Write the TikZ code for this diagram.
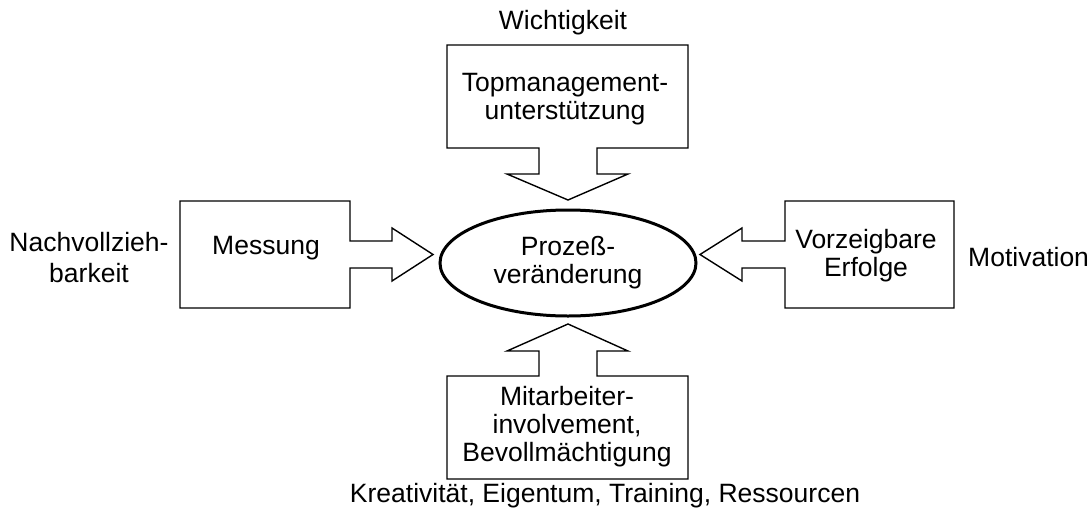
\documentclass[tikz,border=0pt]{standalone}
\usepackage{fontspec}
\setmainfont{Liberation Sans}
\usetikzlibrary{shapes.geometric}
\begin{document}
\begin{tikzpicture}[x=1pt,y=-1pt,
  outline/.style={draw=black,line width=1.4pt,line join=miter,fill=white},
  lbl/.style={inner sep=0pt,align=center,font=\fontsize{26.5}{28}\selectfont},
  centre/.style={draw=black,line width=3pt,ellipse,minimum width=256pt,
    minimum height=106pt,inner sep=0pt,align=center,font=\fontsize{26.5}{28}\selectfont}]
\useasboundingbox (0,0) rectangle (1092,514);

% top box with its downward block arrow
\draw[outline] (447,45) -- (688,45) -- (688,148) -- (597,148) -- (597,174)
  -- (628,174) -- (568,200) -- (507,174) -- (539,174) -- (539,148)
  -- (447,148) -- cycle;
% left box with its arrow pointing right
\draw[outline] (180,201) -- (350,201) -- (350,241) -- (392,241) -- (392,228)
  -- (433,254.5) -- (392,281) -- (392,268) -- (350,268) -- (350,308)
  -- (180,308) -- cycle;
% right box with its arrow pointing left
\draw[outline] (954,201) -- (785,201) -- (785,241) -- (742,241) -- (742,228)
  -- (700,254.5) -- (742,281) -- (742,268) -- (785,268) -- (785,308)
  -- (954,308) -- cycle;
% bottom box with its upward block arrow
\draw[outline] (447,479) -- (688,479) -- (688,376) -- (597,376) -- (597,351)
  -- (628,351) -- (568,324) -- (507,351) -- (539,351) -- (539,376)
  -- (447,376) -- cycle;

% centre ellipse
\node[centre] (pv) at (568,263) {Prozeß-\\veränderung};

% box texts
\node[lbl] (top) at (565,99) {Topmanagement-\\unterstützung};
\node[lbl] (mess) at (266,248) {Messung};
\node[lbl] (vorz) at (866,256) {Vorzeigbare\\Erfolge};
\node[lbl] (mit) at (567,427) {Mitarbeiter-\\involvement,\\Bevollmächtigung};

% outer labels
\node[lbl] (wicht) at (563,23) {Wichtigkeit};
\node[lbl,font=\fontsize{26.5}{31}\selectfont] (nach) at (89,258) {Nachvollzieh-\\barkeit};
\node[lbl,anchor=west] (motiv) at (968,257) {Motivation};
\node[lbl] (krea) at (605,496) {Kreativität, Eigentum, Training, Ressourcen};
\end{tikzpicture}
\end{document}
